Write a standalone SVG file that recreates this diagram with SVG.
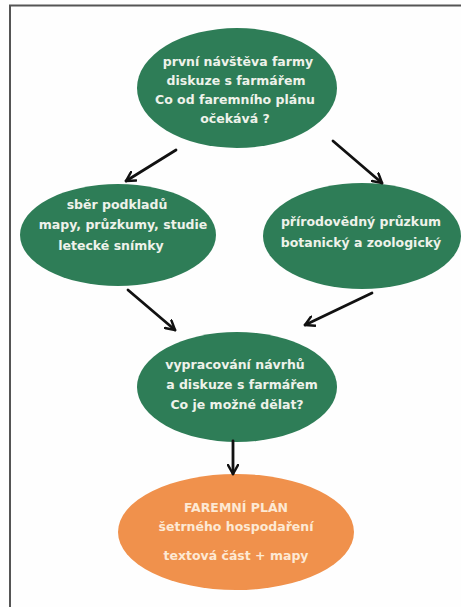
<svg xmlns="http://www.w3.org/2000/svg" width="461" height="607" viewBox="0 0 461 607">
<defs>
<style>
.g{fill:#2e7d57}
.o{fill:#f0914c}
.t{font-family:"DejaVu Sans",sans-serif;font-weight:bold;font-size:12.5px;fill:#eef2ea;text-anchor:middle}
.to{fill:#fde9d4}
.c{stroke:#111;stroke-width:2.8;fill:none;stroke-linecap:round}
</style>
<marker id="ah" viewBox="0 0 12 12" refX="10" refY="6" markerWidth="12" markerHeight="12" markerUnits="userSpaceOnUse" orient="auto">
<path d="M1,1 L10,6 L1,11" fill="none" stroke="#111" stroke-width="2.5" stroke-linecap="round" stroke-linejoin="round"/>
</marker>
</defs>
<rect width="461" height="607" fill="#fefefe"/>
<path d="M10,607 V5.5 H461" fill="none" stroke="#555" stroke-width="2"/>
<g id="n1">
<ellipse class="g" cx="237" cy="88" rx="100" ry="60"/>
<text class="t" x="238" y="66">první návštěva farmy</text>
<text class="t" x="236" y="85">diskuze s farmářem</text>
<text class="t" x="235" y="104">Co od faremního plánu</text>
<text class="t" x="235" y="123">očekává ?</text>
</g>
<g id="n2">
<ellipse class="g" cx="118" cy="235" rx="98" ry="51"/>
<text class="t" x="117" y="209">sběr podkladů</text>
<text class="t" x="123" y="229">mapy, průzkumy, studie</text>
<text class="t" x="111" y="250">letecké snímky</text>
</g>
<g id="n3">
<ellipse class="g" cx="362" cy="236" rx="99" ry="53"/>
<text class="t" x="361" y="226">přírodovědný průzkum</text>
<text class="t" x="361" y="247">botanický a zoologický</text>
</g>
<g id="n4">
<ellipse class="g" cx="237" cy="387" rx="100" ry="55"/>
<text class="t" x="235" y="369">vypracování návrhů</text>
<text class="t" x="242" y="389">a diskuze s farmářem</text>
<text class="t" x="237" y="409">Co je možné dělat?</text>
</g>
<g id="n5">
<ellipse class="o" cx="236" cy="532" rx="118" ry="58"/>
<text class="t to" x="236" y="512">FAREMNÍ PLÁN</text>
<text class="t to" x="236" y="531">šetrného hospodaření</text>
<text class="t to" x="236" y="560">textová část + mapy</text>
</g>
<g id="connectors">
<line class="c" x1="176" y1="150" x2="126" y2="181" marker-end="url(#ah)"/>
<line class="c" x1="333" y1="141" x2="382" y2="183" marker-end="url(#ah)"/>
<line class="c" x1="128" y1="290" x2="175" y2="330" marker-end="url(#ah)"/>
<line class="c" x1="372" y1="293" x2="305" y2="325" marker-end="url(#ah)"/>
<line class="c" x1="233" y1="441" x2="233" y2="474" marker-end="url(#ah)"/>
</g>
</svg>
